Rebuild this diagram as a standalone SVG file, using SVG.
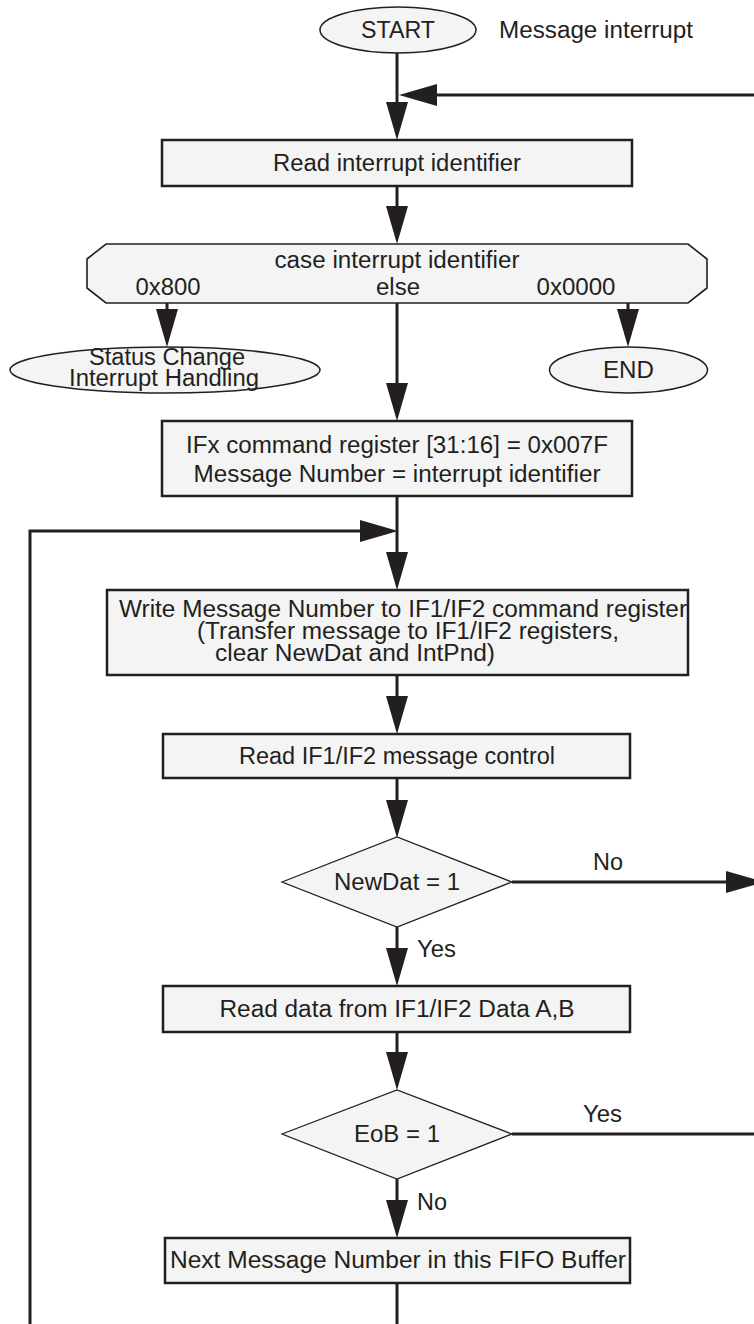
<svg xmlns="http://www.w3.org/2000/svg" width="754" height="1324" viewBox="0 0 754 1324">
<defs>
<style>
text{font-family:"Liberation Sans",Arial,sans-serif;font-size:23px;fill:#231f20}
.c{text-anchor:middle}
.box{fill:#f4f4f4;stroke:#231f20;stroke-width:2.5}
.ell{fill:#f4f4f4;stroke:#231f20;stroke-width:1.5}
.dia{fill:#f4f4f4;stroke:#231f20;stroke-width:1.3}
.oct{fill:#f4f4f4;stroke:#231f20;stroke-width:1.6}
.con{fill:none;stroke:#231f20;stroke-width:3}
</style>
<marker id="ah" markerUnits="userSpaceOnUse" markerWidth="38" markerHeight="22" viewBox="0 0 38 22" refX="30" refY="11" orient="auto">
<path d="M0,0 L38,11 L0,22 Z" fill="#231f20"/>
</marker>
</defs>
<rect width="754" height="1324" fill="#ffffff"/>

<g id="connectors">
<path class="con" d="M397,53 V132" marker-end="url(#ah)"/>
<path class="con" d="M754,95 H407" marker-end="url(#ah)"/>
<path class="con" d="M397,186 V236" marker-end="url(#ah)"/>
<path class="con" d="M167,303 V339" marker-end="url(#ah)"/>
<path class="con" d="M628,303 V339" marker-end="url(#ah)"/>
<path class="con" d="M397,303 V413" marker-end="url(#ah)"/>
<path class="con" d="M397,496 V582" marker-end="url(#ah)"/>
<path class="con" d="M30,1324 V531 H390" marker-end="url(#ah)"/>
<path class="con" d="M397,675 V726" marker-end="url(#ah)"/>
<path class="con" d="M397,778 V830" marker-end="url(#ah)"/>
<path class="con" d="M512,882 H756" marker-end="url(#ah)"/>
<path class="con" d="M397,927 V978" marker-end="url(#ah)"/>
<path class="con" d="M397,1032 V1082" marker-end="url(#ah)"/>
<path class="con" d="M512,1134 H754"/>
<path class="con" d="M397,1179 V1230" marker-end="url(#ah)"/>
<path class="con" d="M397,1283 V1324"/>
</g>

<g id="start">
<ellipse class="ell" cx="398" cy="30" rx="78" ry="23"/>
<text class="c" x="398" y="38" textLength="74" lengthAdjust="spacingAndGlyphs">START</text>
</g>
<g id="label-message-interrupt">
<text x="499" y="38" textLength="194" lengthAdjust="spacingAndGlyphs">Message interrupt</text>
</g>

<g id="read-interrupt-identifier">
<rect class="box" x="162" y="140" width="470" height="46"/>
<text class="c" x="397" y="171" textLength="248" lengthAdjust="spacingAndGlyphs">Read interrupt identifier</text>
</g>

<g id="case-interrupt-identifier">
<polygon class="oct" points="106,244 688,244 707,259 707,288 688,303 106,303 87,288 87,259"/>
<text class="c" x="397" y="268" textLength="245" lengthAdjust="spacingAndGlyphs">case interrupt identifier</text>
<text class="c" x="168" y="295" textLength="65" lengthAdjust="spacingAndGlyphs">0x800</text>
<text class="c" x="398" y="295" textLength="44" lengthAdjust="spacingAndGlyphs">else</text>
<text class="c" x="576" y="295" textLength="79" lengthAdjust="spacingAndGlyphs">0x0000</text>
</g>

<g id="status-change">
<ellipse class="ell" cx="165" cy="370" rx="155" ry="23"/>
<text class="c" x="167" y="365" textLength="156" lengthAdjust="spacingAndGlyphs">Status Change</text>
<text class="c" x="164" y="386" textLength="190" lengthAdjust="spacingAndGlyphs">Interrupt Handling</text>
</g>

<g id="end">
<ellipse class="ell" cx="628.5" cy="370" rx="79" ry="23"/>
<text class="c" x="628.5" y="378" textLength="51" lengthAdjust="spacingAndGlyphs">END</text>
</g>

<g id="ifx-command">
<rect class="box" x="162" y="421" width="470" height="75"/>
<text class="c" x="397" y="453" textLength="422" lengthAdjust="spacingAndGlyphs">IFx command register [31:16] = 0x007F</text>
<text class="c" x="397" y="482" textLength="407" lengthAdjust="spacingAndGlyphs">Message Number = interrupt identifier</text>
</g>

<g id="write-message-number">
<rect class="box" x="107" y="590" width="581" height="85"/>
<text x="119" y="617" textLength="568" lengthAdjust="spacingAndGlyphs">Write Message Number to IF1/IF2 command register</text>
<text x="197" y="639" textLength="422" lengthAdjust="spacingAndGlyphs">(Transfer message to IF1/IF2 registers,</text>
<text x="215" y="661" textLength="280" lengthAdjust="spacingAndGlyphs">clear NewDat and IntPnd)</text>
</g>

<g id="read-message-control">
<rect class="box" x="163" y="734" width="467" height="44"/>
<text class="c" x="397" y="764" textLength="316" lengthAdjust="spacingAndGlyphs">Read IF1/IF2 message control</text>
</g>

<g id="newdat-decision">
<polygon class="dia" points="282,882 397,837 512,882 397,927"/>
<text class="c" x="397" y="890" textLength="126" lengthAdjust="spacingAndGlyphs">NewDat = 1</text>
</g>
<g id="label-newdat-no">
<text x="593" y="870" textLength="30" lengthAdjust="spacingAndGlyphs">No</text>
</g>
<g id="label-newdat-yes">
<text x="417" y="957" textLength="39" lengthAdjust="spacingAndGlyphs">Yes</text>
</g>

<g id="read-data">
<rect class="box" x="163" y="986" width="467" height="46"/>
<text class="c" x="397" y="1017" textLength="355" lengthAdjust="spacingAndGlyphs">Read data from IF1/IF2 Data A,B</text>
</g>

<g id="eob-decision">
<polygon class="dia" points="282,1134 397,1090 512,1134 397,1179"/>
<text class="c" x="397" y="1142" textLength="86" lengthAdjust="spacingAndGlyphs">EoB = 1</text>
</g>
<g id="label-eob-yes">
<text x="583" y="1122" textLength="39" lengthAdjust="spacingAndGlyphs">Yes</text>
</g>
<g id="label-eob-no">
<text x="417" y="1210" textLength="30" lengthAdjust="spacingAndGlyphs">No</text>
</g>

<g id="next-message-number">
<rect class="box" x="165" y="1238" width="465" height="45"/>
<text class="c" x="398" y="1268" textLength="456" lengthAdjust="spacingAndGlyphs">Next Message Number in this FIFO Buffer</text>
</g>
</svg>
